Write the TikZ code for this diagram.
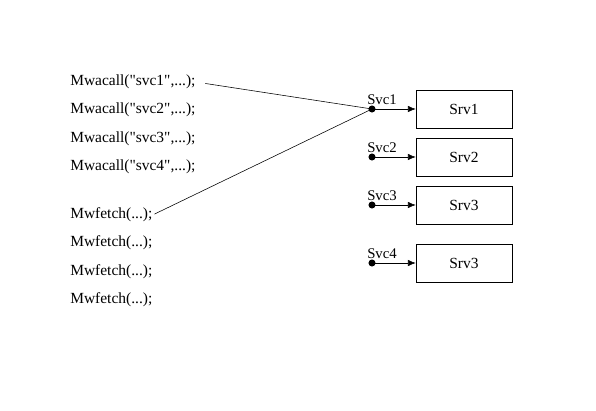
\documentclass[tikz,border=0pt]{standalone}
\usepackage{fontspec}
\setmainfont{Liberation Serif}
\usepackage{tikz}
\usetikzlibrary{arrows.meta}
\begin{document}
\begin{tikzpicture}[x=0.025cm, y=-0.025cm,
        call/.style={anchor=west, inner sep=0pt, font=\fontsize{11}{13}\selectfont},
        srv/.style={draw, minimum width=2.4cm, minimum height=0.95cm,
                    font=\fontsize{11}{13}\selectfont},
        port/.style={circle, fill, inner sep=0pt, minimum size=5pt},
        svc/.style={anchor=base west, inner sep=0pt, font=\fontsize{10.5}{12}\selectfont},
        arr/.style={-{Latex[length=5.5pt, width=4.5pt]}}
    ]
        \useasboundingbox (0,0) rectangle (596,411);
        % calls on the left
        \node[call] (a1) at (70,82)  {Mwacall(\textquotedbl svc1\textquotedbl,...);};
        \node[call] (a2) at (70,110) {Mwacall(\textquotedbl svc2\textquotedbl,...);};
        \node[call] (a3) at (70,139) {Mwacall(\textquotedbl svc3\textquotedbl,...);};
        \node[call] (a4) at (70,167) {Mwacall(\textquotedbl svc4\textquotedbl,...);};
        \node[call] (f1) at (70,215) {Mwfetch(...);};
        \node[call] (f2) at (70,243) {Mwfetch(...);};
        \node[call] (f3) at (70,272) {Mwfetch(...);};
        \node[call] (f4) at (70,300) {Mwfetch(...);};
        % services and servers
        \node[port] (s1) at (372,109) {};
        \node[port] (s2) at (372,157) {};
        \node[port] (s3) at (372,205) {};
        \node[port] (s4) at (372,263) {};
        \node[svc] (l1) at (367,105) {Svc1};
        \node[svc] (l2) at (367,153) {Svc2};
        \node[svc] (l3) at (367,201) {Svc3};
        \node[svc] (l4) at (367,259) {Svc4};
        \node[srv] (srv1) at (464,109) {Srv1};
        \node[srv] (srv2) at (464,157) {Srv2};
        \node[srv] (srv3) at (464,205) {Srv3};
        \node[srv] (srv4) at (464,263) {Srv3};
        \draw[arr] (s1.center)--(srv1); \draw[arr] (s2.center)--(srv2);
        \draw[arr] (s3.center)--(srv3); \draw[arr] (s4.center)--(srv4);
        \draw[shorten <=7pt] (a1.east)--(s1.center);
        \draw[shorten <=1.5pt] (f1.east)--(s1.center);
    \end{tikzpicture}
\end{document}
